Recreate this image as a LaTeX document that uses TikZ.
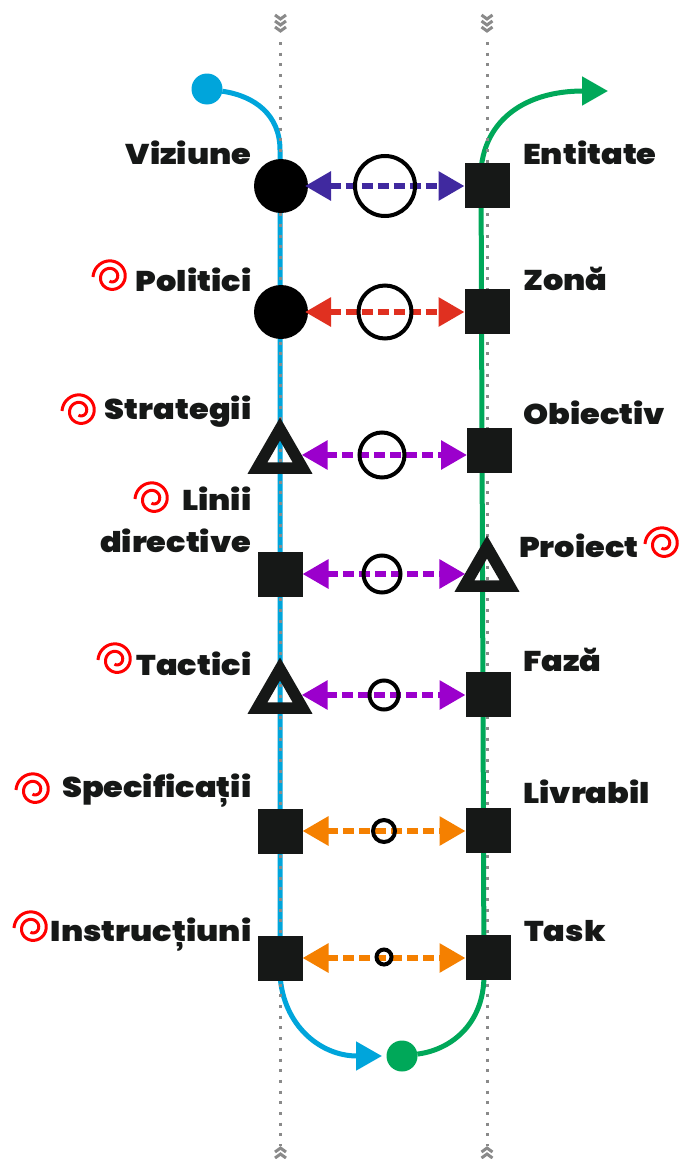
\documentclass[tikz,border=0pt]{standalone}
\usepackage{fontspec}
\setmainfont{Poppins}[BoldFont=* Black,BoldFeatures={FakeStretch=1.12}]
\usetikzlibrary{arrows.meta,shapes.geometric}
\definecolor{blueline}{HTML}{00A5DB}
\definecolor{greenline}{HTML}{00A859}
\definecolor{squarecol}{HTML}{161817}
\definecolor{guidegray}{HTML}{8A8A8A}
\definecolor{indigoarr}{HTML}{40299F}
\definecolor{redarr}{HTML}{E03020}
\definecolor{purplearr}{HTML}{9B00CC}
\definecolor{orangearr}{HTML}{F58000}
\tikzset{
    disc/.style={circle,fill=black,inner sep=0pt,minimum size=54pt,outer sep=-3pt},
    sq/.style={rectangle,fill=squarecol,inner sep=0pt,minimum size=45pt,outer sep=0pt},
    tri/.style={regular polygon,regular polygon sides=3,draw=squarecol,line width=11.5pt,
        inner sep=0pt,minimum size=52pt,miter limit=10},
    ring/.style={circle,draw=black,line width=4pt,inner sep=0pt,minimum size=#1},
    endpoint/.style={circle,fill=#1,inner sep=0pt,minimum size=31pt,outer sep=0pt},
    lbl/.style={font=\bfseries\fontsize{28.5}{42}\selectfont,text=squarecol,inner sep=0pt},
    lblL/.style={lbl,anchor=east,align=right},
    lblR/.style={lbl,anchor=west},
    guide/.style={guidegray,line width=3pt,dash pattern=on 3pt off 7.7pt},
    chev/.style={guidegray,line width=3pt},
    main/.style={line width=5pt},
    rel/.style={#1,line width=6pt,dash pattern=on 11pt off 5pt,
        {Triangle[length=26pt,width=28pt]}-{Triangle[length=26pt,width=28pt]}},
    pics/spiralmark/.style={code={
        \draw[red,line width=3pt,smooth,samples=70,domain=0:650]
            plot ({(18-.021*\x)*cos(\x+180)},{(18-.021*\x)*sin(\x+180)});
    }}
}
\begin{document}
\begin{tikzpicture}[x=1pt,y=-1pt]
    \useasboundingbox (0,0) rectangle (683,1159);
    % main lines
    \node[endpoint=blueline] (startblue) at (207,89) {};
    \node[endpoint=greenline] (startgreen) at (402,1056) {};
    \coordinate (endblue) at (382,1056);
    \coordinate (endgreen) at (608,91);
    \draw[main,blueline,-{Triangle[length=26pt,width=28pt]}] (startblue) .. controls (255,96) and (280,115) .. (280,150)
        -- (280,975) .. controls (283,1025) and (320,1056) .. (endblue);
    \draw[main,greenline,-{Triangle[length=26pt,width=28pt]}] (startgreen) .. controls (450,1050) and (484,1025) .. (484,975)
        -- (481,170) .. controls (485,120) and (525,91) .. (endgreen);
    % guides
    \foreach \x in {280.5,487} {
        \draw[guide] (\x,42) -- (\x,1146);
        \foreach \y in {15,21,27}
            \draw[chev] (\x-5.5,\y) -- (\x,\y+4) -- (\x+5.5,\y);
        \foreach \y in {1152,1158}
            \draw[chev] (\x-5.5,\y) -- (\x,\y-4) -- (\x+5.5,\y);
    }
    % left column
    \node[disc] (viziune) at (281,186) {};
    \node[disc] (politici) at (281,312) {};
    \node[tri] (strategii) at (280,455) {};
    \node[sq] (linii) at (280,574) {};
    \node[tri] (tactici) at (280,695) {};
    \node[sq] (specif) at (280,831) {};
    \node[sq] (instr) at (280,958) {};
    % right column
    \node[sq] (entitate) at (487,185) {};
    \node[sq] (zona) at (487,311) {};
    \node[sq] (obiectiv) at (489.5,450) {};
    \node[tri] (proiect) at (487,573) {};
    \node[sq] (faza) at (488,694) {};
    \node[sq] (livrabil) at (488,830) {};
    \node[sq] (task) at (488,957) {};
    % relations
    \foreach \a/\b/\c in {viziune/entitate/indigoarr,politici/zona/redarr,strategii/obiectiv/purplearr,
        linii/proiect/purplearr,tactici/faza/purplearr,specif/livrabil/orangearr,instr/task/orangearr}
        \draw[rel=\c] (\a) -- (\a -| \b.west);
    % rings
    \node[ring=60pt] (r1) at (385,186) {};
    \node[ring=53pt] (r2) at (385,312) {};
    \node[ring=45pt] (r3) at (382,455) {};
    \node[ring=37pt] (r4) at (382,574) {};
    \node[ring=29pt] (r5) at (384,695) {};
    \node[ring=22pt] (r6) at (384,831) {};
    \node[ring=15pt] (r7) at (384,957) {};
    % labels
    \node[lblL] (t1) at (251.5,153) {Viziune};
    \node[lblL] (t2) at (251.5,280) {Politici};
    \node[lblL] (t3) at (251.5,412) {Strategii};
    \node[lblL] (t4) at (251.5,520) {Linii\\directive};
    \node[lblL] (t5) at (251.5,664) {Tactici};
    \node[lblL] (t6) at (251.5,791) {Specificații};
    \node[lblL] (t7) at (251.5,935) {Instrucțiuni};
    \node[lblR] (t8) at (523,153) {Entitate};
    \node[lblR] (t9) at (523,279) {Zonă};
    \node[lblR] (t10) at (523,413) {Obiectiv};
    \node[lblR] (t11) at (519,546) {Proiect};
    \node[lblR] (t12) at (523,660) {Fază};
    \node[lblR] (t13) at (523,792) {Livrabil};
    \node[lblR] (t14) at (524,931) {Task};
    % spirals
    \foreach \x/\y in {111/277,80/411,153/499,663/544,116/660,34/790,32/928}
        \pic at (\x,\y) {spiralmark};
\end{tikzpicture}
\end{document}
